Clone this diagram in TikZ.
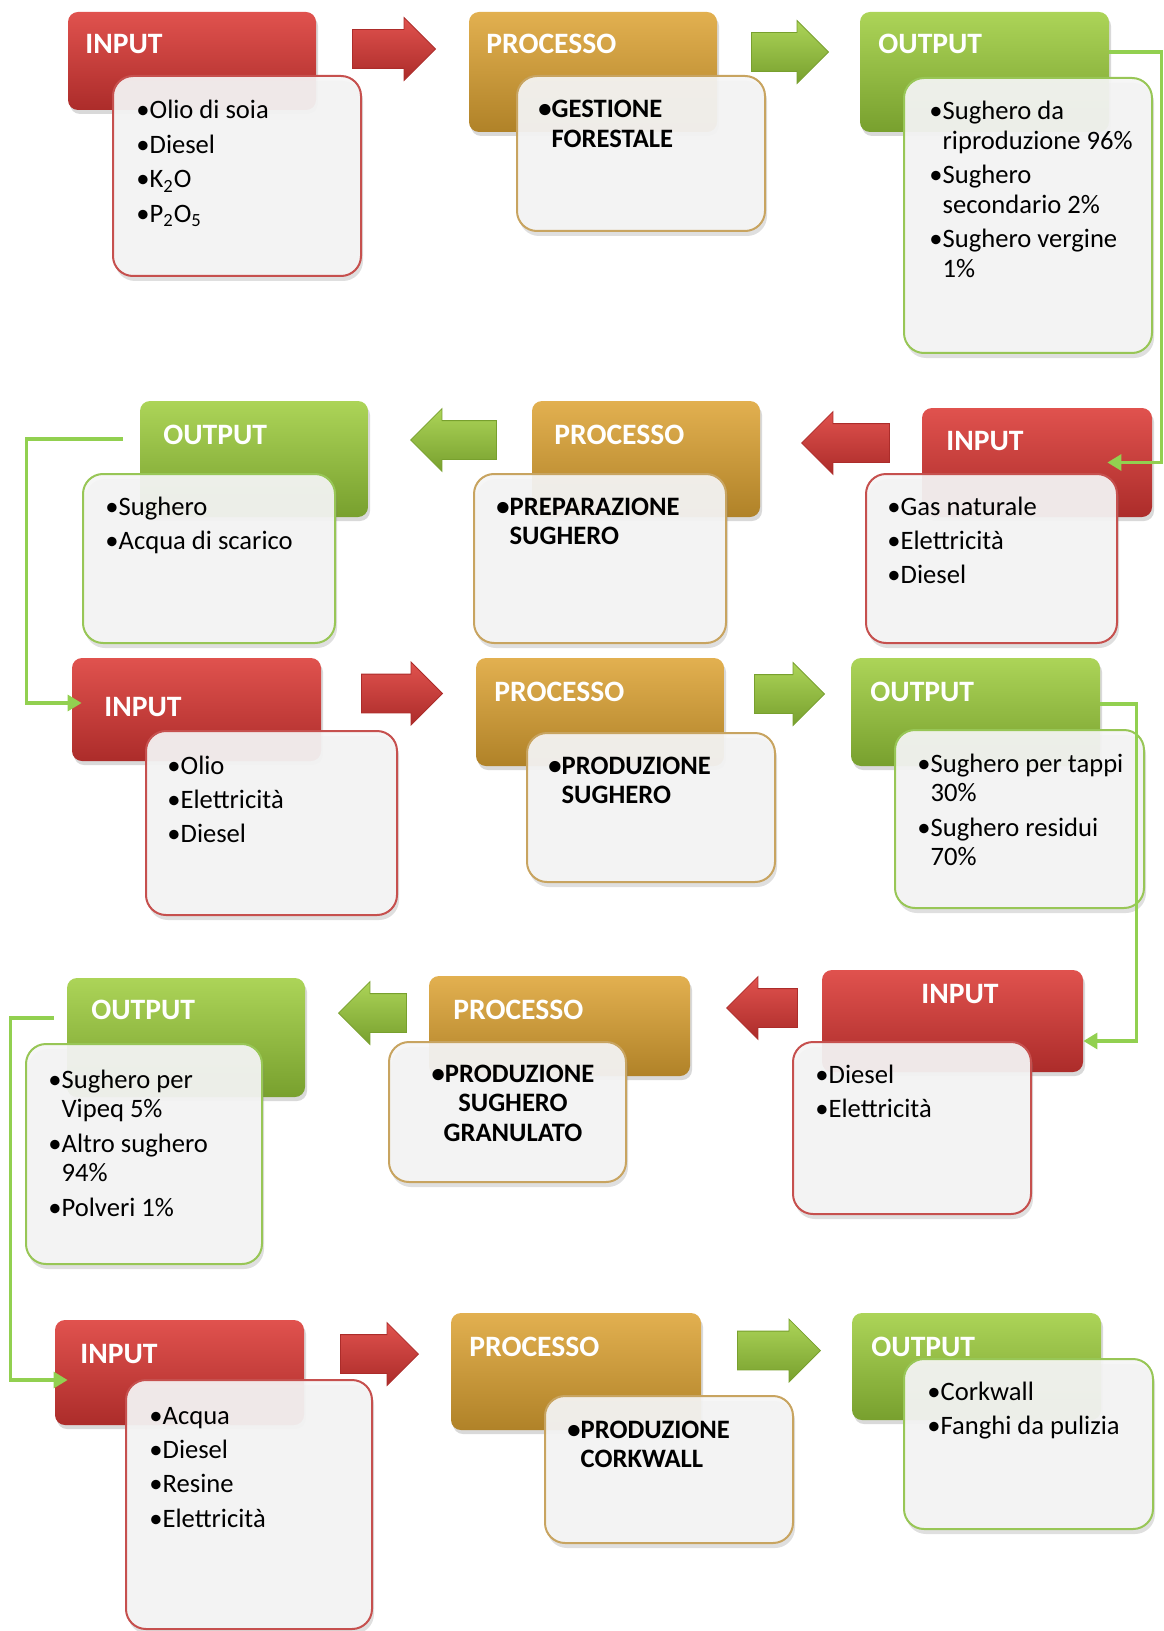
\documentclass[tikz,border=0pt]{standalone}
\usepackage{fontspec}
\setmainfont{Carlito}
\usetikzlibrary{calc, positioning, fit}
\usetikzlibrary{arrows.meta}
\usetikzlibrary{shadows}
\usetikzlibrary{shapes.arrows}

\definecolor{redtop}{RGB}{224,82,78}
\definecolor{redbot}{RGB}{172,44,42}
\definecolor{redline}{RGB}{198,80,78}
\definecolor{goldtop}{RGB}{226,176,80}
\definecolor{goldbot}{RGB}{176,130,40}
\definecolor{goldline}{RGB}{200,164,96}
\definecolor{greentop}{RGB}{172,212,88}
\definecolor{greenbot}{RGB}{120,160,46}
\definecolor{greenline}{RGB}{152,198,86}
\definecolor{bodyfill}{RGB}{245,245,245}
\definecolor{linkgreen}{RGB}{146,208,80}

\newcommand{\hd}{\fontsize{14.8}{17}\selectfont\bfseries}
\newcommand{\bd}{\fontsize{13.3}{14.8}\selectfont}
\newcommand{\nx}{\\[2.4pt]}
\newcommand{\hg}{\phantom{•}}
\newcommand{\lst}[1]{\parbox[t]{200pt}{#1}}

\tikzset{
    head/.style = {
        rounded corners=5pt, inner sep=0pt,
        drop shadow={shadow xshift=1pt, shadow yshift=-2pt, opacity=.3}
    },
    redhead/.style = {head, top color=redtop, bottom color=redbot},
    goldhead/.style = {head, top color=goldtop, bottom color=goldbot},
    greenhead/.style = {head, top color=greentop, bottom color=greenbot},
    body/.style = {
        rounded corners=10pt, inner sep=0pt, line width=1pt,
        fill=bodyfill, fill opacity=.93,
        drop shadow={shadow xshift=1pt, shadow yshift=-2.5pt, opacity=.25}
    },
    redbody/.style = {body, draw=redline},
    goldbody/.style = {body, draw=goldline},
    greenbody/.style = {body, draw=greenline},
    headtxt/.style = {anchor=base west, inner sep=0pt, text=white, font=\hd},
    bodytxt/.style = {anchor=base west, inner sep=0pt, font=\bd},
    blockarrow/.style = {
        single arrow, single arrow head extend=6pt, single arrow tip angle=90,
        inner xsep=0pt, inner ysep=9.5pt, minimum width=31pt, minimum height=#1*0.5pt,
        anchor=tip
    },
    redarrow/.style = {blockarrow=#1, top color=redtop, bottom color=redbot, draw=redbot},
    greenarrow/.style = {blockarrow=#1, top color=greentop, bottom color=greenbot, draw=greenbot},
    back/.style = {shape border rotate=180},
    link/.style = {draw=linkgreen, line width=1.6pt, -{Triangle[width=8pt,length=7pt]}},
}

\begin{document}
\begin{tikzpicture}[x=0.5pt, y=-0.5pt]
        \useasboundingbox (0,0) rectangle (1163,1631);

        % Row 1
        \node[redhead, fit={(68,12) (316,110)}] (in1) {};
        \node[headtxt] (in1t) at (85,54) {INPUT};
        \node[redbody, fit={(113,76) (361,276)}] (in1b) {};
        \node[bodytxt] (in1l) at (136,119) {\lst{•Olio di soia\nx •Diesel\nx •K\textsubscript{2}O\nx •P\textsubscript{2}O\textsubscript{5}}};

        \node[goldhead, fit={(469,12) (717,132)}] (pr1) {};
        \node[headtxt] (pr1t) at (486,54) {PROCESSO};
        \node[goldbody, fit={(517,76) (765,231)}] (pr1b) {};
        \node[bodytxt, font=\bd\bfseries] (pr1l) at (538,118) {\lst{•GESTIONE\\\hg FORESTALE}};

        \node[greenhead, fit={(860,12) (1109,132)}] (out1) {};
        \node[headtxt] (out1t) at (878,54) {OUTPUT};
        \node[greenbody, fit={(904,78) (1152,353)}] (out1b) {};
        \node[bodytxt] (out1l) at (929,120) {\lst{•Sughero da\\\hg riproduzione 96\%\nx •Sughero\\\hg secondario 2\%\nx •Sughero vergine\\\hg 1\%}};

        \node[redarrow=83] (arr1) at (436,49) {};
        \node[greenarrow=77] (arr2) at (829,52) {};

        % Row 2
        \node[greenhead, fit={(140,401) (368,517)}] (out2) {};
        \node[headtxt] (out2t) at (163,444) {OUTPUT};
        \node[greenbody, fit={(83,474) (335,643)}] (out2b) {};
        \node[bodytxt] (out2l) at (105,515) {\lst{•Sughero\nx •Acqua di scarico}};

        \node[goldhead, fit={(532,401) (760,517)}] (pr2) {};
        \node[headtxt] (pr2t) at (554,444) {PROCESSO};
        \node[goldbody, fit={(474,474) (726,643)}] (pr2b) {};
        \node[bodytxt, font=\bd\bfseries] (pr2l) at (496,515) {\lst{•PREPARAZIONE\\\hg SUGHERO}};

        \node[redhead, fit={(922,408) (1152,517)}] (in2) {};
        \node[headtxt] (in2t) at (946,450) {INPUT};
        \node[redbody, fit={(866,474) (1117,643)}] (in2b) {};
        \node[bodytxt] (in2l) at (887,515) {\lst{•Gas naturale\nx •Elettricità\nx •Diesel}};

        \node[greenarrow=86, back] (arr3) at (410,440) {};
        \node[redarrow=88, back] (arr4) at (801,443) {};

        % Row 3
        \node[redhead, fit={(72,658) (321,761)}] (in3) {};
        \node[headtxt] (in3t) at (104,716) {INPUT};
        \node[redbody, fit={(146,731) (397,915)}] (in3b) {};
        \node[bodytxt] (in3l) at (167,774) {\lst{•Olio\nx •Elettricità\nx •Diesel}};

        \node[goldhead, fit={(476,658) (724,766)}] (pr3) {};
        \node[headtxt] (pr3t) at (494,701) {PROCESSO};
        \node[goldbody, fit={(527,733) (775,882)}] (pr3b) {};
        \node[bodytxt, font=\bd\bfseries] (pr3l) at (548,774) {\lst{•PRODUZIONE\\\hg SUGHERO}};

        \node[greenhead, fit={(851,658) (1100,766)}] (out3) {};
        \node[headtxt] (out3t) at (870,701) {OUTPUT};
        \node[greenbody, fit={(895,730) (1144,908)}] (out3b) {};
        \node[bodytxt] (out3l) at (917,772) {\lst{•Sughero per tappi\\\hg 30\%\nx •Sughero residui\\\hg 70\%}};

        \node[redarrow=81] (arr5) at (443,693.5) {};
        \node[greenarrow=70] (arr6) at (825,694) {};

        % Row 4
        \node[greenhead, fit={(67,978) (305,1097)}] (out4) {};
        \node[headtxt] (out4t) at (91,1019) {OUTPUT};
        \node[greenbody, fit={(26,1044) (262,1264)}] (out4b) {};
        \node[bodytxt] (out4l) at (48,1088) {\lst{•Sughero per\\\hg Vipeq 5\%\nx •Altro sughero\\\hg 94\%\nx •Polveri 1\%}};

        \node[goldhead, fit={(429,976) (690,1076)}] (pr4) {};
        \node[headtxt] (pr4t) at (453,1019) {PROCESSO};
        \node[goldbody, fit={(389,1042) (626,1182)}] (pr4b) {};
        \node[bodytxt, font=\bd\bfseries, anchor=base] (pr4l) at (513,1082) {\lst{\centering •PRODUZIONE\\SUGHERO\\GRANULATO}};

        \node[redhead, fit={(822,970) (1083,1072)}] (in4) {};
        \node[headtxt, anchor=base] (in4t) at (960,1003) {INPUT};
        \node[redbody, fit={(793,1042) (1031,1214)}] (in4b) {};
        \node[bodytxt] (in4l) at (815,1083) {\lst{•Diesel\nx •Elettricità}};

        \node[greenarrow=68, back] (arr7) at (338,1013) {};
        \node[redarrow=71, back] (arr8) at (726,1008) {};

        % Row 5
        \node[redhead, fit={(55,1320) (304,1425)}] (in5) {};
        \node[headtxt] (in5t) at (80,1363) {INPUT};
        \node[redbody, fit={(126,1380) (372,1629)}] (in5b) {};
        \node[bodytxt] (in5l) at (149,1424) {\lst{•Acqua\nx •Diesel\nx •Resine\nx •Elettricità}};

        \node[goldhead, fit={(451,1313) (701,1430)}] (pr5) {};
        \node[headtxt] (pr5t) at (469,1356) {PROCESSO};
        \node[goldbody, fit={(545,1396) (793,1543)}] (pr5b) {};
        \node[bodytxt, font=\bd\bfseries] (pr5l) at (567,1438) {\lst{•PRODUZIONE\\\hg CORKWALL}};

        \node[greenhead, fit={(852,1313) (1101,1420)}] (out5) {};
        \node[headtxt] (out5t) at (871,1356) {OUTPUT};
        \node[greenbody, fit={(904,1359) (1153,1529)}] (out5b) {};
        \node[bodytxt] (out5l) at (927,1400) {\lst{•Corkwall\nx •Fanghi da pulizia}};

        \node[redarrow=78] (arr9) at (419,1354) {};
        \node[greenarrow=83] (arr10) at (821,1350.5) {};

        % Draw connections
        \draw[link] ([yshift=10pt]out1.east) -- ++(52,0) |- ([xshift=-22.5pt]in2.east);
        \draw[link] ([shift={(-8.5pt,10pt)}]out2.west) -- ++(-96,0) |- ([shift={(5pt,3.25pt)}]in3.west);
        \draw[link] ([yshift=4pt]out3.east) -- ++(36,0) |- ([yshift=-10pt]in4.east);
        \draw[link] ([shift={(-6.5pt,9.75pt)}]out4.west) -- ++(-43,0) |- ([shift={(6.5pt,-3.75pt)}]in5.west);
    \end{tikzpicture}
\end{document}
